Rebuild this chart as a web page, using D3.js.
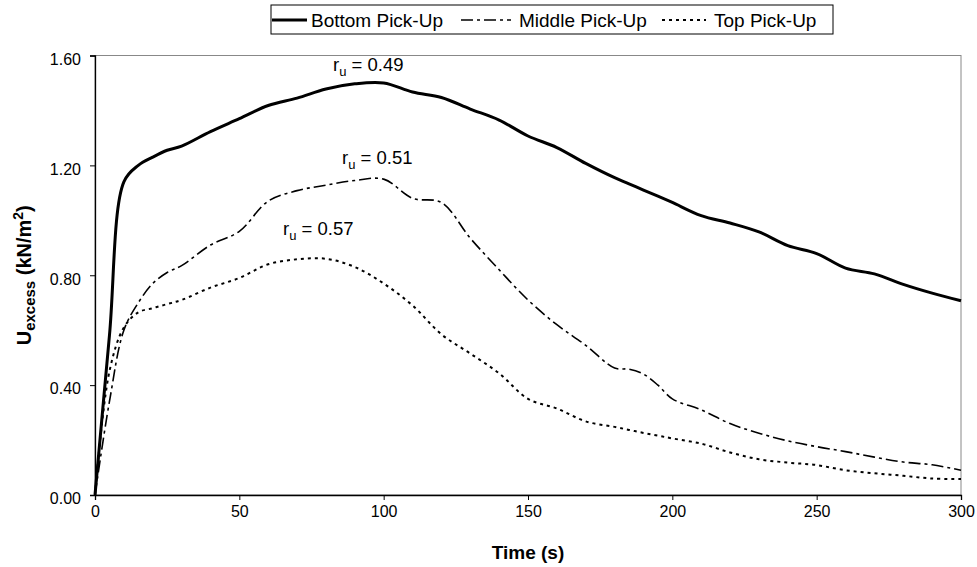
<!DOCTYPE html>
<html>
<head>
<meta charset="utf-8">
<script src="https://cdn.jsdelivr.net/npm/d3@7"></script>
<style>
  body { margin: 0; background: white; }
  svg { font-family: Arial, "Liberation Sans", sans-serif; }
</style>
</head>
<body>
<svg id="chart-svg" width="977" height="567"></svg>
<script>
var svg_chart = d3.select("#chart-svg");

// Data
var times = [0, 5, 10, 15, 20, 25, 30, 40, 50, 60, 70, 80, 90, 100, 110, 120, 130, 140, 150,
             160, 170, 180, 185, 190, 195, 200, 210, 220, 230, 240, 250, 260, 270, 280, 290, 300];
var bottom_vals = [0, 0.58, 1.14, 1.20, 1.23, 1.255, 1.27, 1.323, 1.37, 1.418, 1.445, 1.478, 1.497, 1.50, 1.467, 1.447, 1.405, 1.365, 1.307,
                   1.265, 1.207, 1.155, 1.133, 1.11, 1.088, 1.065, 1.017, 0.99, 0.958, 0.908, 0.879, 0.826, 0.805, 0.767, 0.735, 0.707];
var middle_vals = [0, 0.34, 0.60, 0.70, 0.77, 0.81, 0.835, 0.91, 0.96, 1.07, 1.108, 1.128, 1.145, 1.15, 1.08, 1.065, 0.935, 0.82, 0.71,
                   0.62, 0.545, 0.462, 0.458, 0.44, 0.40, 0.35, 0.31, 0.26, 0.225, 0.197, 0.176, 0.158, 0.138, 0.12, 0.11, 0.09];
var top_vals = [0, 0.45, 0.61, 0.665, 0.68, 0.695, 0.71, 0.755, 0.79, 0.84, 0.858, 0.86, 0.83, 0.77, 0.69, 0.585, 0.515, 0.443, 0.35,
                0.315, 0.268, 0.248, 0.237, 0.226, 0.216, 0.206, 0.187, 0.155, 0.13, 0.118, 0.109, 0.09, 0.079, 0.07, 0.06, 0.058];
var series_names = ["Bottom Pick-Up", "Middle Pick-Up", "Top Pick-Up"];
var ru_labels = ["0.49", "0.51", "0.57"];
var x_ticks = [0, 50, 100, 150, 200, 250, 300];
var y_ticks = [0, 0.4, 0.8, 1.2, 1.6];

// Layout
var margin = { left: 95, right: 16, top: 55.5, bottom: 72 };
var w = 977, h = 567;

var x = d3.scaleLinear().domain([0, 300]).range([margin.left, w - margin.right]);
var y = d3.scaleLinear().domain([0, 1.6]).range([h - margin.bottom, margin.top]);

// line styles
var styles = [
  { width: 3, dash: null },
  { width: 1.6, dash: "12,4,3,4" },
  { width: 2, dash: "3,4" }
];

// Plot border (gray top/right)
svg_chart.append("rect")
         .attr("x", x(0))
         .attr("y", y(1.6))
         .attr("width", x(300) - x(0))
         .attr("height", y(0) - y(1.6))
         .style("fill", "none")
         .style("stroke", "#888");

// Axes
var xAxis = svg_chart.append("g")
         .attr("transform", "translate(0," + y(0) + ")")
         .call(d3.axisBottom(x).tickValues(x_ticks).tickSize(5).tickPadding(6));
var yAxis = svg_chart.append("g")
         .attr("transform", "translate(" + x(0) + ",0)")
         .call(d3.axisLeft(y).tickValues(y_ticks).tickFormat(d3.format(".2f")).tickSize(5).tickPadding(9));

[xAxis, yAxis].forEach(function(a) {
  a.select(".domain").style("stroke", "black").style("stroke-width", 1.3);
  a.selectAll(".tick line").style("stroke", "black");
  a.selectAll("text").style("font-size", "16px").style("fill", "black")
   .style("font-family", "Arial, 'Liberation Sans', sans-serif");
});
yAxis.selectAll("text").attr("dy", "0.55em");

// Lines
var seriesData = [bottom_vals, middle_vals, top_vals];
var line = d3.line()
             .x(function(d, i) { return x(times[i]); })
             .y(function(d) { return y(d); })
             .curve(d3.curveCatmullRom.alpha(0.5));

svg_chart.selectAll(".series")
         .data(seriesData)
         .enter()
         .append("path")
         .attr("class", "series")
         .attr("d", line)
         .style("fill", "none")
         .style("stroke", "black")
         .style("stroke-width", function(d, i) { return styles[i].width; })
         .style("stroke-dasharray", function(d, i) { return styles[i].dash; });

// r_u annotations
var ru_pos = [ { x: 333, y: 71 }, { x: 342, y: 164 }, { x: 283, y: 235 } ];
ru_labels.forEach(function(lab, i) {
  var t = svg_chart.append("text")
           .attr("x", ru_pos[i].x)
           .attr("y", ru_pos[i].y)
           .style("font-size", "18.5px");
  t.append("tspan").text("r");
  t.append("tspan").attr("dy", 5).style("font-size", "13px").text("u");
  t.append("tspan").attr("dy", -5).text(" = " + lab);
});

// Axis titles
svg_chart.append("text")
         .attr("x", (x(0) + x(300)) / 2)
         .attr("y", 559)
         .attr("text-anchor", "middle")
         .style("font-size", "19px")
         .style("font-weight", "bold")
         .text("Time (s)");

var yt = svg_chart.append("text")
         .attr("transform", "translate(31," + ((y(0) + y(1.6)) / 2) + ") rotate(-90)")
         .attr("text-anchor", "middle")
         .style("font-size", "20px")
         .style("font-weight", "bold");
yt.append("tspan").text("U");
yt.append("tspan").attr("dy", 4).style("font-size", "15px").text("excess");
yt.append("tspan").attr("dy", -4).text(" (kN/m");
yt.append("tspan").attr("dy", -8).style("font-size", "14px").text("2");
yt.append("tspan").attr("dy", 8).text(")");

// Legend
var legend = svg_chart.append("g");
legend.append("rect")
      .attr("x", 271).attr("y", 5)
      .attr("width", 562).attr("height", 29)
      .style("fill", "white")
      .style("stroke", "black")
      .style("stroke-width", 1);

var legend_items = [
  { x1: 272, x2: 307, tx: 311 },
  { x1: 461, x2: 511, tx: 519 },
  { x1: 662, x2: 706, tx: 714 }
];
series_names.forEach(function(name, i) {
  legend.append("line")
        .attr("x1", legend_items[i].x1).attr("x2", legend_items[i].x2)
        .attr("y1", 20).attr("y2", 20)
        .style("stroke", "black")
        .style("stroke-width", styles[i].width)
        .style("stroke-dasharray", styles[i].dash);
  legend.append("text")
        .attr("x", legend_items[i].tx)
        .attr("y", 27)
        .style("font-size", "19px")
        .text(name);
});
</script>
</body>
</html>
